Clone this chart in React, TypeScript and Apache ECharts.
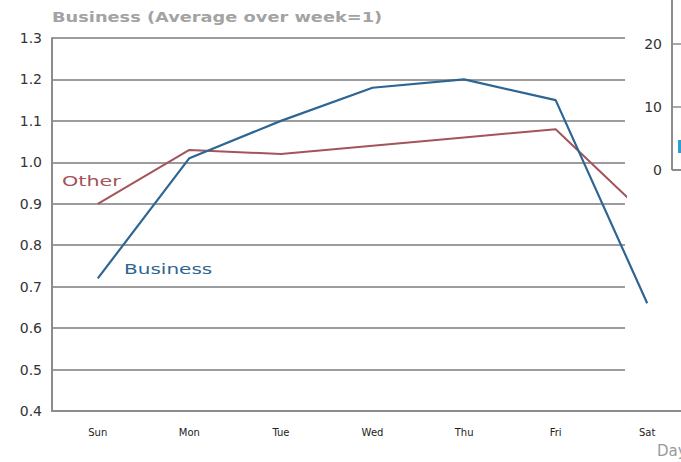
import React, { useEffect, useRef } from "react";
import * as echarts from "echarts";

// Days of the week along the bottom axis
const days = ["Sun", "Mon", "Tue", "Wed", "Thu", "Fri", "Sat"];
// Index values, average over the week = 1
const businessValues = [0.72, 1.01, 1.1, 1.18, 1.2, 1.15, 0.66];
const otherValues = [0.9, 1.03, 1.02, 1.04, 1.06, 1.08, 0.87];
// Left value axis range
const yMin = 0.4;
const yMax = 1.3;
const yStep = 0.1;
// Neighbouring panel's axis ticks
const sideTicks = ["20", "10", "0"];

const BLUE = "#2e6592";
const RED = "#a4545a";
const GRID = "#9c9c9c";
const AXIS = "#8c8c8c";

export default function App() {
  const ref = useRef<HTMLDivElement>(null);

  useEffect(() => {
    document.body.style.margin = "0";
    const chart = echarts.init(ref.current!, null, { renderer: "svg" });
    const font = "DejaVu Sans";
    const sideY = [44, 107, 170];
    chart.setOption({
      animation: false,
      backgroundColor: "#ffffff",
      grid: [
        // gridlines and value labels
        { left: 52, top: 38, width: 573, height: 373 },
        // plotted lines and day axis
        { left: 52, top: 38, width: 641, height: 373 },
      ],
      xAxis: [
        { gridIndex: 0, type: "value", show: false, min: 0, max: 1 },
        {
          gridIndex: 1,
          type: "category",
          data: days,
          boundaryGap: true,
          axisLine: { lineStyle: { color: AXIS, width: 2 } },
          axisTick: { inside: true, length: 6, alignWithLabel: true, lineStyle: { color: AXIS, width: 1.5 } },
          axisLabel: { color: "#222", fontSize: 10, fontFamily: font, margin: 16 },
        },
      ],
      yAxis: [
        {
          gridIndex: 0,
          type: "value",
          min: yMin,
          max: yMax,
          interval: yStep,
          axisLine: { show: true, lineStyle: { color: AXIS, width: 2 } },
          axisTick: { show: false },
          splitLine: { show: true, lineStyle: { color: GRID, width: 2 } },
          axisLabel: {
            color: "#333",
            fontSize: 14,
            fontFamily: font,
            margin: 10,
            formatter: (v: number) => v.toFixed(1),
          },
        },
        { gridIndex: 1, type: "value", min: yMin, max: yMax, show: false, splitLine: { show: false } },
      ],
      series: [
        {
          name: "Other",
          type: "line",
          xAxisIndex: 1,
          yAxisIndex: 1,
          data: otherValues,
          symbol: "none",
          lineStyle: { color: RED, width: 2 },
          z: 3,
        },
        {
          name: "Business",
          type: "line",
          xAxisIndex: 1,
          yAxisIndex: 1,
          data: businessValues,
          symbol: "none",
          lineStyle: { color: BLUE, width: 2.2 },
          z: 4,
        },
      ],
      graphic: [
        // white backing of the neighbouring panel
        { type: "rect", shape: { x: 627, y: 0, width: 100, height: 224 }, style: { fill: "#ffffff" }, z: 50 },
        { type: "line", shape: { x1: 672, y1: 0, x2: 672, y2: 170 }, style: { stroke: AXIS, lineWidth: 2 }, z: 51 },
        { type: "line", shape: { x1: 672, y1: 170, x2: 700, y2: 170 }, style: { stroke: AXIS, lineWidth: 2 }, z: 51 },
        { type: "line", shape: { x1: 672, y1: 44, x2: 681, y2: 44 }, style: { stroke: AXIS, lineWidth: 1.5 }, z: 51 },
        { type: "line", shape: { x1: 672, y1: 107, x2: 681, y2: 107 }, style: { stroke: AXIS, lineWidth: 1.5 }, z: 51 },
        ...sideTicks.map((t, i) => ({
          type: "text",
          x: 662,
          y: sideY[i],
          style: { text: t, fill: "#333", font: `14px ${font}`, textAlign: "right", textVerticalAlign: "middle" },
          z: 51,
        })),
        { type: "rect", shape: { x: 678, y: 140, width: 6, height: 13 }, style: { fill: "#2a9fd6" }, z: 51 },
        {
          type: "text",
          x: 52,
          y: 17,
          scaleX: 1.27,
          style: { text: "Business (Average over week=1)", fill: "#a3a3a3", font: `bold 14px ${font}`, textVerticalAlign: "middle" },
          z: 60,
        },
        {
          type: "text",
          x: 62,
          y: 181,
          scaleX: 1.48,
          style: { text: "Other", fill: RED, font: `14px ${font}`, textVerticalAlign: "middle" },
          z: 60,
        },
        {
          type: "text",
          x: 124,
          y: 269,
          scaleX: 1.43,
          style: { text: "Business", fill: BLUE, font: `14px ${font}`, textVerticalAlign: "middle" },
          z: 60,
        },
        {
          type: "text",
          x: 657,
          y: 451,
          style: { text: "Day", fill: "#9a9a9a", font: `15px ${font}`, textVerticalAlign: "middle" },
          z: 60,
        },
      ],
    });
    return () => chart.dispose();
  }, []);

  // The chart canvas runs a little past the visible frame on the right
  return (
    <div style={{ width: 681, height: 462, overflow: "hidden", position: "relative" }}>
      <div ref={ref} style={{ width: 720, height: 462 }} />
    </div>
  );
}
